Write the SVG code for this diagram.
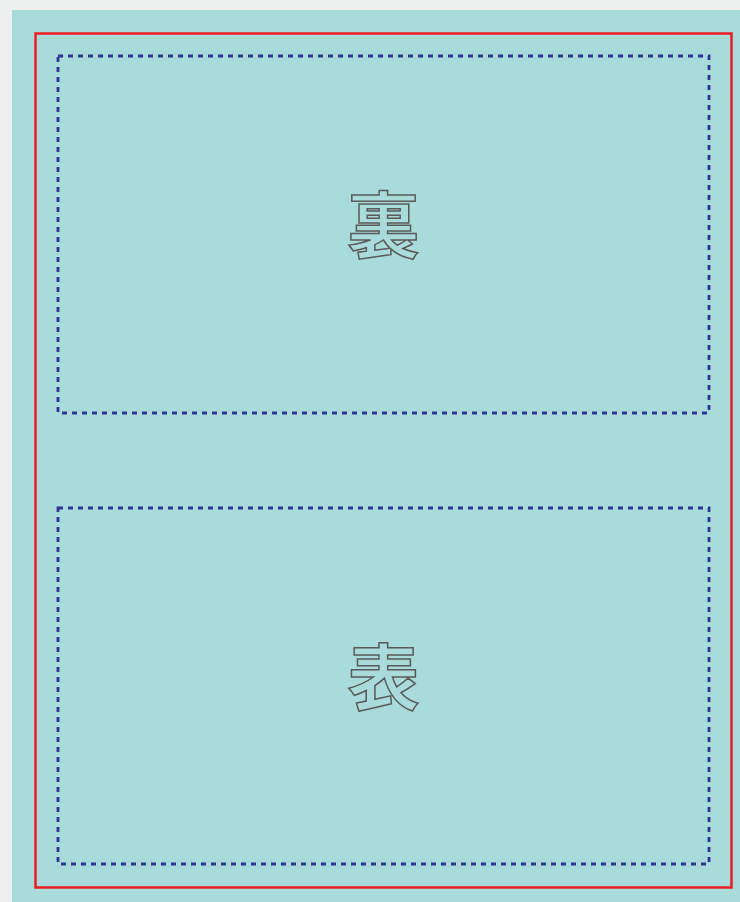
<svg xmlns="http://www.w3.org/2000/svg" width="740" height="902" viewBox="0 0 740 902">
<style>
.zone{fill:none;stroke:#2c3595;stroke-width:2.8;stroke-dasharray:5 5}
.lbl{font-family:"Noto Sans CJK JP","Noto Sans CJK SC",sans-serif;font-size:72px;font-weight:bold;fill:#a9dbdb;stroke:#5a5a5a;stroke-width:1.5;text-anchor:middle}
</style>
<rect x="0" y="0" width="740" height="902" fill="#eef0f0"/>
<rect x="12" y="10" width="728" height="892" fill="#a9dbdb"/>
<rect x="35.5" y="33.5" width="696" height="854" fill="none" stroke="#ec1c24" stroke-width="2.5"/>
<g id="back">
<rect class="zone" x="58" y="56" width="651" height="357"/>
<text class="lbl" x="383.5" y="252">裏</text>
</g>
<g id="front">
<rect class="zone" x="58" y="508" width="651" height="356"/>
<text class="lbl" x="383.5" y="704">表</text>
</g>
<g id="connectors"/>
</svg>
